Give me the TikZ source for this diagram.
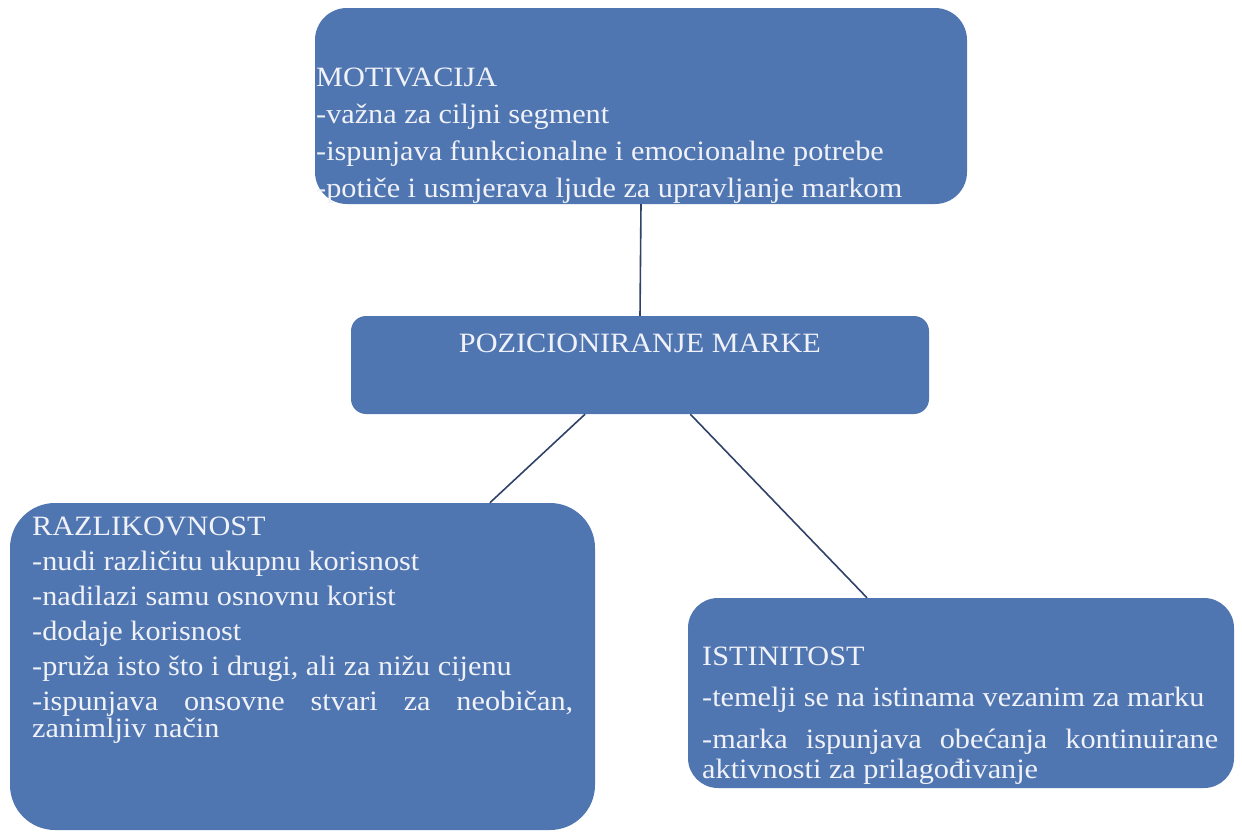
\documentclass[tikz,border=0pt]{standalone}
\usepackage{fontspec}
\setmainfont{Liberation Serif}[FakeStretch=1.08]
\usetikzlibrary{calc}
\definecolor{boxblue}{RGB}{80,118,178}
\definecolor{txtc}{RGB}{240,242,248}
\definecolor{linec}{RGB}{48,66,104}
\begin{document}
\begin{tikzpicture}[x=1pt,y=-1pt,
  box/.style={fill=boxblue, draw=none, inner sep=0pt},
  txtline/.style={anchor=base west, inner sep=0pt, text=txtc, font=\fontsize{28}{28}\selectfont},
  conn/.style={draw=linec, line width=1.6pt}]
\useasboundingbox (0,0) rectangle (1242,836);
\fill[white] (0,0) rectangle (1242,836);
% boxes
\node[box, rounded corners=32pt, minimum width=652pt, minimum height=196pt] (mot) at (641,106) {};
\node[box, rounded corners=15pt, minimum width=578pt, minimum height=98pt] (poz) at (640,365) {};
\node[box, rounded corners=45pt, minimum width=585pt, minimum height=327pt] (raz) at (302.5,666.5) {};
\node[box, rounded corners=30pt, minimum width=546pt, minimum height=190pt] (ist) at (961,693) {};
% connectors
\draw[conn] (mot.south) -- (poz.north);
\draw[conn] ($(poz.south west)!0.405!(poz.south east)$) -- ($(raz.north west)!0.82!(raz.north east)$);
\draw[conn] ($(poz.south west)!0.587!(poz.south east)$) -- ($(ist.north west)!0.328!(ist.north east)$);
% top box text
\node[txtline] (m0) at (316,86) {MOTIVACIJA};
\node[txtline] (m1) at (316,123) {-važna za ciljni segment};
\node[txtline] (m2) at (316,160) {-ispunjava funkcionalne i emocionalne potrebe};
\node[txtline] (m3) at (316,197.5) {-potiče i usmjerava ljude za upravljanje markom};
% middle
\node[txtline, anchor=base] (p0) at (640,352) {POZICIONIRANJE MARKE};
% left box text
\node[txtline] (r0) at (32,535) {RAZLIKOVNOST};
\node[txtline] (r1) at (32,570) {-nudi različitu ukupnu korisnost};
\node[txtline] (r2) at (32,605) {-nadilazi samu osnovnu korist};
\node[txtline] (r3) at (32,640) {-dodaje korisnost};
\node[txtline] (r4) at (32,675) {-pruža isto što i drugi, ali za nižu cijenu};
\node[txtline] (r5) at (32,710) {\makebox[541pt][s]{-ispunjava onsovne stvari za neobičan,}};
\node[txtline] (r6) at (32,737) {zanimljiv način};
% right box text
\node[txtline] (i0) at (702,665) {ISTINITOST};
\node[txtline] (i1) at (702,706) {-temelji se na istinama vezanim za marku};
\node[txtline] (i2) at (702,748) {\makebox[516pt][s]{-marka ispunjava obećanja kontinuirane}};
\node[txtline] (i3) at (702,778) {aktivnosti za prilagođivanje};
\end{tikzpicture}
\end{document}
